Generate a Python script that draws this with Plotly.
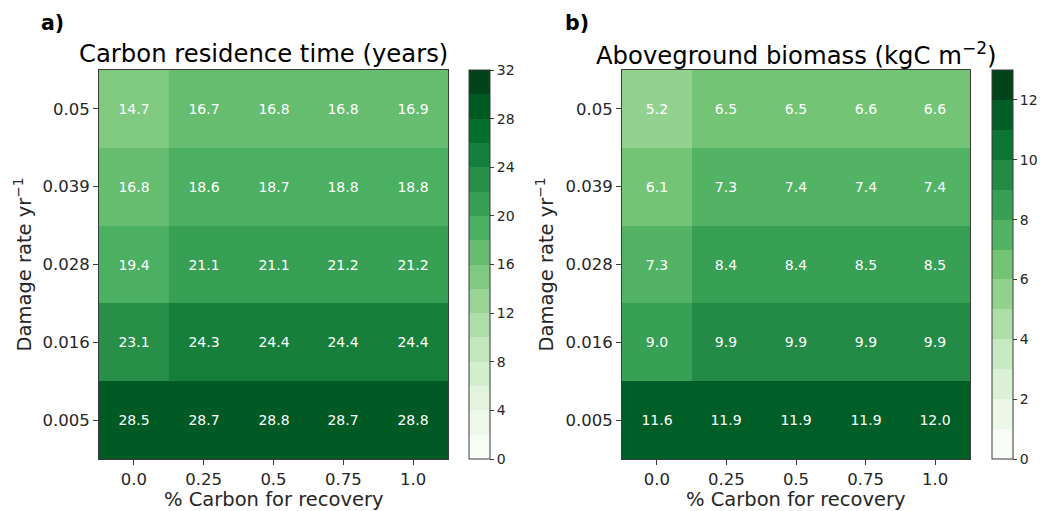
import plotly.graph_objects as go

# ---- data ----
recovery_labels = ["0.0", "0.25", "0.5", "0.75", "1.0"]
damage_labels = ["0.005", "0.016", "0.028", "0.039", "0.05"]  # bottom -> top

# Carbon residence time (years), rows ordered bottom -> top
residence_time = [
    [28.5, 28.7, 28.8, 28.7, 28.8],
    [23.1, 24.3, 24.4, 24.4, 24.4],
    [19.4, 21.1, 21.1, 21.2, 21.2],
    [16.8, 18.6, 18.7, 18.8, 18.8],
    [14.7, 16.7, 16.8, 16.8, 16.9],
]

# Aboveground biomass (kgC m-2), rows ordered bottom -> top
biomass = [
    [11.6, 11.9, 11.9, 11.9, 11.96],
    [8.97, 9.9, 9.9, 9.9, 9.9],
    [7.3, 8.4, 8.4, 8.5, 8.5],
    [6.1, 7.3, 7.4, 7.4, 7.4],
    [5.2, 6.5, 6.5, 6.6, 6.6],
]

res_ticks = [0, 4, 8, 12, 16, 20, 24, 28, 32]
bio_ticks = [0, 2, 4, 6, 8, 10, 12]

# ---- Greens colormap (ColorBrewer anchors, linear interpolation) ----
GREENS = ["#f7fcf5", "#e5f5e0", "#c7e9c0", "#a1d99b", "#74c476",
          "#41ab5d", "#238b45", "#006d2c", "#00441b"]


def _rgb(h):
    return tuple(int(h[i:i + 2], 16) for i in (1, 3, 5))


def greens(t):
    t = min(max(t, 0.0), 1.0)
    pos = t * (len(GREENS) - 1)
    i = min(int(pos), len(GREENS) - 2)
    f = pos - i
    a, b = _rgb(GREENS[i]), _rgb(GREENS[i + 1])
    c = [round(a[k] + (b[k] - a[k]) * f) for k in range(3)]
    return "rgb({},{},{})".format(*c)


def stepped_scale(nbins):
    scale = []
    for i in range(nbins):
        col = greens(i / (nbins - 1))
        scale.append([i / nbins, col])
        scale.append([(i + 1) / nbins, col])
    return scale


W, H = 1041, 511
FONT = "DejaVu Sans"
TXT = "#262626"
LINE = "#3a3a3a"


def px(x):
    return x / W


def py(y):
    return 1 - y / H


plot_top, plot_bot = 70, 459
panels = [
    dict(x0=99, x1=448, cb=469, z=residence_time, zmax=32, nbins=16, ticks=res_ticks),
    dict(x0=622, x1=970, cb=992, z=biomass, zmax=13, nbins=13, ticks=bio_ticks),
]

fig = go.Figure()
for k, p in enumerate(panels):
    sfx = "" if k == 0 else str(k + 1)
    fig.add_trace(go.Heatmap(
        z=p["z"], x=recovery_labels, y=damage_labels,
        xaxis="x" + sfx, yaxis="y" + sfx,
        zmin=0, zmax=p["zmax"], colorscale=stepped_scale(p["nbins"]),
        texttemplate="%{z:.1f}",
        textfont=dict(family=FONT, size=14, color="white"),
        hoverinfo="skip",
        colorbar=dict(
            x=px(p["cb"]), xanchor="left", xpad=0, ypad=0,
            y=py(plot_bot), yanchor="bottom",
            len=(plot_bot - plot_top) / H, lenmode="fraction",
            thickness=21, thicknessmode="pixels",
            outlinewidth=1, outlinecolor=LINE,
            tickvals=p["ticks"], ticks="outside", ticklen=4,
            tickcolor=LINE, tickfont=dict(family=FONT, size=14, color=TXT),
        ),
    ))
    axis_common = dict(
        type="category", showline=True, mirror=True, linecolor=LINE, linewidth=1,
        ticks="outside", ticklen=5, tickcolor=LINE, showgrid=False, zeroline=False,
        tickfont=dict(family=FONT, size=16.5, color=TXT),
    )
    fig.update_layout(**{
        "xaxis" + sfx: dict(axis_common, domain=[px(p["x0"]), px(p["x1"])],
                            anchor="y" + sfx),
        "yaxis" + sfx: dict(axis_common, domain=[py(plot_bot), py(plot_top)],
                            anchor="x" + sfx),
    })

ann = []
# panel letters
for txt, x in [("<b>a)</b>", 39), ("<b>b)</b>", 563)]:
    ann.append(dict(text=txt, x=px(x), y=py(23), xanchor="left", yanchor="middle",
                    font=dict(family=FONT, size=20.5, color="black")))
# panel titles
for txt, xc in [("Carbon residence time (years)", 263.5),
                ("Aboveground biomass (kgC m<sup>−2</sup>)", 795.5)]:
    ann.append(dict(text=txt, x=px(xc), y=py(53.5), xanchor="center", yanchor="middle",
                    font=dict(family=FONT, size=24.3, color="black")))
# axis titles
for xc in [(99 + 448) / 2, (622 + 970) / 2]:
    ann.append(dict(text="% Carbon for recovery", x=px(xc), y=py(499),
                    xanchor="center", yanchor="middle",
                    font=dict(family=FONT, size=19.5, color=TXT)))
for xc in [22, 544]:
    ann.append(dict(text="Damage rate yr<sup>−1</sup>", x=px(xc),
                    y=py((plot_top + plot_bot) / 2), textangle=-90,
                    xanchor="center", yanchor="middle",
                    font=dict(family=FONT, size=19.5, color=TXT)))
for a in ann:
    a.update(xref="paper", yref="paper", showarrow=False)

fig.update_layout(
    width=W, height=H, margin=dict(l=0, r=0, t=0, b=0),
    paper_bgcolor="white", plot_bgcolor="white",
    font=dict(family=FONT, color=TXT), annotations=ann, showlegend=False,
)

fig.write_html("out.html")
